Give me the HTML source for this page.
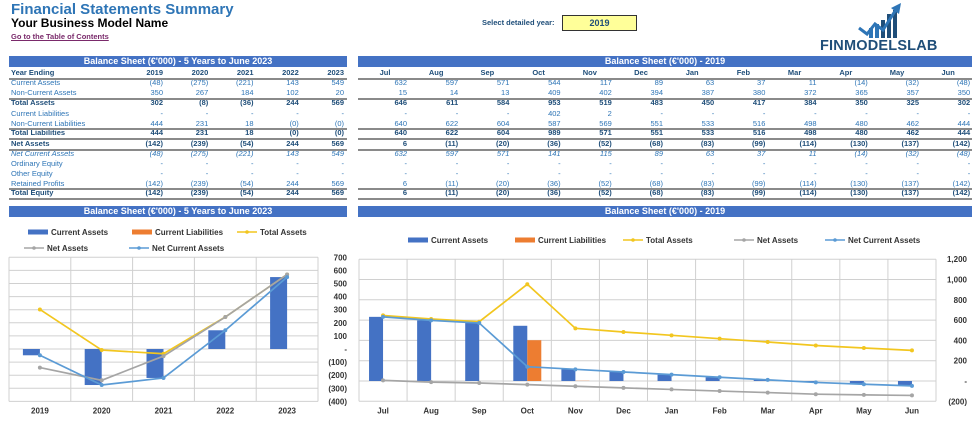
<!DOCTYPE html>
<html><head><meta charset="utf-8"><style>
body{margin:0;width:977px;height:434px;background:#fff;position:relative;overflow:hidden;font-family:"Liberation Sans",sans-serif}
.a{position:absolute;white-space:nowrap}
.bar{position:absolute;background:#4472c4;color:#fff;font-weight:bold;font-size:9px;text-align:center;line-height:11px;height:11px}
.c{position:absolute;font-size:7.5px;line-height:10px;height:10px;color:#2e75b6}
.b{font-weight:bold;color:#1f4e79}
.i{font-style:italic}
.ln{position:absolute;height:0;border-top:2px solid #8a8a8a}
</style></head><body>
<div class="a" style="left:11px;top:1px;font-size:15px;font-weight:bold;color:#2e75b6">Financial Statements Summary</div>
<div class="a" style="left:11px;top:16px;font-size:12px;font-weight:bold;color:#000">Your Business Model Name</div>
<div class="a" style="left:11px;top:32px;font-size:7.5px;font-weight:bold;color:#7a2a6b;text-decoration:underline">Go to the Table of Contents</div>
<div class="a" style="left:482px;top:18px;font-size:7.5px;font-weight:bold;color:#1f4e79">Select detailed year:</div>
<div class="a" style="left:562px;top:15px;width:73px;height:14px;background:#ffff99;border:1px solid #333;font-size:9px;font-weight:bold;color:#1f4e79;text-align:center;line-height:14px">2019</div>
<svg class="a" style="left:855px;top:2px" width="50" height="38" viewBox="0 0 50 38">
<rect x="14" y="26" width="4" height="10" fill="#2e75b6"/><rect x="20" y="22" width="4" height="14" fill="#2e75b6"/><rect x="26" y="18" width="4" height="18" fill="#1f4e79"/><rect x="32" y="12" width="4" height="24" fill="#1f4e79"/><rect x="38" y="8" width="4" height="28" fill="#1f4e79"/>
<polyline points="4,26 12,32 20,22 28,28 42,6" fill="none" stroke="#2e75b6" stroke-width="3"/><polygon points="36,6 46,1 44,12" fill="#2e75b6"/></svg>
<div class="a" style="left:820px;top:38px;font-size:14.5px;font-weight:bold;color:#1f4e79;letter-spacing:0.2px">FINMODELSLAB</div>

<div class="bar" style="left:9px;top:56px;width:338px">Balance Sheet (€'000) - 5 Years to June 2023</div>
<div class="bar" style="left:358px;top:56px;width:614px">Balance Sheet (€'000) - 2019</div>
<div class="bar" style="left:9px;top:206px;width:338px">Balance Sheet (€'000) - 5 Years to June 2023</div>
<div class="bar" style="left:358px;top:206px;width:614px">Balance Sheet (€'000) - 2019</div>
<div id="tables"></div>
<svg id="ch1" class="a" style="left:0;top:218px" width="355" height="216"></svg>
<svg id="ch2" class="a" style="left:355px;top:218px" width="622" height="216"></svg>
<script>
const years=["2019","2020","2021","2022","2023"];
const months=["Jul","Aug","Sep","Oct","Nov","Dec","Jan","Feb","Mar","Apr","May","Jun"];
const rowLabels=["Current Assets","Non-Current Assets","Total Assets","Current Liabilities","Non-Current Liabilities","Total Liabilities","Net Assets","Net Current Assets","Ordinary Equity","Other Equity","Retained Profits","Total Equity"];
const yCurrentAssets=[-48,-275,-221,143,549];
const yNonCurrentAssets=[350,267,184,102,20];
const yTotalAssets=[302,-8,-36,244,569];
const yCurrentLiab=[0,0,0,0,0];
const yNonCurrentLiab=[444,231,18,0,0];
const yTotalLiab=[444,231,18,0,0];
const yNetAssets=[-142,-239,-54,244,569];
const yNetCurrentAssets=[-48,-275,-221,143,549];
const yRetained=[-142,-239,-54,244,569];
const mCurrentAssets=[632,597,571,544,117,89,63,37,11,-14,-32,-48];
const mNonCurrentAssets=[15,14,13,409,402,394,387,380,372,365,357,350];
const mTotalAssets=[646,611,584,953,519,483,450,417,384,350,325,302];
const mCurrentLiab=[0,0,0,402,2,0,0,0,0,0,0,0];
const mNonCurrentLiab=[640,622,604,587,569,551,533,516,498,480,462,444];
const mTotalLiab=[640,622,604,989,571,551,533,516,498,480,462,444];
const mNetAssets=[6,-11,-20,-36,-52,-68,-83,-99,-114,-130,-137,-142];
const mNetCurrentAssets=[632,597,571,141,115,89,63,37,11,-14,-32,-48];
const mRetained=[6,-11,-20,-36,-52,-68,-83,-99,-114,-130,-137,-142];

function fmt(v){if(v===null)return"-";if(v===0)return"-";return v<0?"("+(-v)+")":String(v);}
const T=document.getElementById('tables');
const rowY=[78,88,98,109,119,128,139,149,159,169,179,188];
const rowStyle=["","","b","","","b","b","i","","","","b"];
const ySeries=[yCurrentAssets,yNonCurrentAssets,yTotalAssets,yCurrentLiab,yNonCurrentLiab,yTotalLiab,yNetAssets,yNetCurrentAssets,null,null,yRetained,yRetained];
const mSeries=[mCurrentAssets,mNonCurrentAssets,mTotalAssets,mCurrentLiab,mNonCurrentLiab,mTotalLiab,mNetAssets,mNetCurrentAssets,null,null,mRetained,mRetained];
function cell(x,y,w,txt,cls,align,name){const d=document.createElement('div');d.className='c '+cls;d.style.left=x+'px';d.style.top=y+'px';d.style.width=w+'px';d.style.textAlign=align;d.textContent=txt;


T.appendChild(d);}
const yColLeft=i=>304-(4-i)*45.25;
cell(11,68,120,"Year Ending","b","left","year-ending-label");
years.forEach((y,i)=>cell(yColLeft(i),68,40,y,"b","right","year-header"));
months.forEach((m,i)=>cell(370+i*51.2,68,30,m,"b","center","month-header"));
rowLabels.forEach((l,r)=>{
 cell(11,rowY[r],140,l,rowStyle[r],"left","row-label");
 const ys=ySeries[r],ms=mSeries[r];
 years.forEach((y,i)=>{let v=ys?ys[i]:0;if((r===4||r===5)&&i>=3)v="(0)";cell(yColLeft(i),rowY[r],40,typeof v==="string"?v:fmt(v),rowStyle[r],"right","annual-value");});
 months.forEach((m,i)=>{let v=ms?ms[i]:0;cell(367+i*51.2,rowY[r],40,fmt(v),rowStyle[r],"right","monthly-value");});
});
function line(x,y,w){const d=document.createElement('div');d.className='ln';d.style.left=x+'px';d.style.top=y+'px';d.style.width=w+'px';


T.appendChild(d);}
[78,98,128,138,149,188,198].forEach(y=>{line(9,y,338);line(358,y,614);});

const NS="http://www.w3.org/2000/svg";
function el(svg,tag,attrs,name){const e=document.createElementNS(NS,tag);for(const k in attrs)e.setAttribute(k,attrs[k]);


svg.appendChild(e);return e;}
function legend(svg,x,y,type,color,label){
 if(type==="bar")el(svg,'rect',{x:x,y:y-2.5,width:20,height:5,fill:color},'legend-swatch');
 else{el(svg,'line',{x1:x,y1:y,x2:20+x,y2:y,stroke:color,'stroke-width':1.5},'legend-swatch');el(svg,'circle',{cx:x+10,cy:y,r:1.8,fill:color},'legend-marker');}
 const t=el(svg,'text',{x:x+23,y:y+3,'font-size':8,'font-weight':'bold',fill:'#333'},'legend-entry');t.textContent=label;}
const C={ca:"#4472c4",cl:"#ed7d31",ta:"#f2c61f",na:"#a5a5a5",nca:"#5b9bd5"};

function chart(svg,cats,ca,cl,ta,na,nca,o){
 const x0=o.x0,x1=o.x1,nc=cats.length,bw=(x1-x0)/nc;
 const X=i=>x0+bw*(i+0.5);const Y=v=>o.yz-(v/o.step)*o.px;
 for(let v=o.min;v<=o.max;v+=o.step){el(svg,'line',{x1:x0,x2:x1,y1:Y(v),y2:Y(v),stroke:'#d0d0d0','stroke-width':1},'gridline');
  const t=el(svg,'text',{x:o.lx,y:Y(v)+3,'font-size':8,'font-weight':'bold',fill:'#333','text-anchor':'end'},'y-tick-label');t.textContent=o.fmt(v);}
 for(let i=0;i<=nc;i++)el(svg,'line',{x1:x0+bw*i,x2:x0+bw*i,y1:Y(o.max),y2:Y(o.min),stroke:'#d0d0d0'},'v-gridline');
 cats.forEach((c,i)=>{const t=el(svg,'text',{x:X(i),y:Y(o.min)+12,'font-size':8,'font-weight':'bold',fill:'#333','text-anchor':'middle'},'x-tick-label');t.textContent=c;
  el(svg,'rect',{x:X(i)-o.w,y:Math.min(Y(ca[i]),Y(0)),width:o.w,height:Math.abs(Y(ca[i])-Y(0)),fill:C.ca},'bar-current-assets');
  if(cl[i])el(svg,'rect',{x:X(i),y:Math.min(Y(cl[i]),Y(0)),width:o.w,height:Math.abs(Y(cl[i])-Y(0)),fill:C.cl},'bar-current-liabilities');});
 [[ta,C.ta,'total-assets'],[na,C.na,'net-assets'],[nca,C.nca,'net-current-assets']].forEach(([s,col,n])=>{
  el(svg,'polyline',{points:s.map((v,i)=>X(i)+','+Y(v)).join(' '),fill:'none',stroke:col,'stroke-width':1.7},'line-'+n);
  s.forEach((v,i)=>el(svg,'circle',{cx:X(i),cy:Y(v),r:2,fill:col},'point-'+n));});
}
const s1=document.getElementById('ch1');
legend(s1,28,14,"bar",C.ca,"Current Assets");legend(s1,132,14,"bar",C.cl,"Current Liabilities");legend(s1,237,14,"line",C.ta,"Total Assets");
legend(s1,24,30,"line",C.na,"Net Assets");legend(s1,129,30,"line",C.nca,"Net Current Assets");
chart(s1,years,yCurrentAssets,yCurrentLiab,yTotalAssets,yNetAssets,yNetCurrentAssets,{x0:9,x1:318,min:-400,max:700,step:100,px:13.1,yz:131,w:17,lx:347,fmt:v=>v===0?"-":v<0?"("+(-v)+")":String(v)});
const s2=document.getElementById('ch2');
legend(s2,53,22,"bar",C.ca,"Current Assets");legend(s2,160,22,"bar",C.cl,"Current Liabilities");legend(s2,268,22,"line",C.ta,"Total Assets");
legend(s2,379,22,"line",C.na,"Net Assets");legend(s2,470,22,"line",C.nca,"Net Current Assets");
chart(s2,months,mCurrentAssets,mCurrentLiab,mTotalAssets,mNetAssets,mNetCurrentAssets,{x0:4,x1:581,min:-200,max:1200,step:200,px:20.3,yz:163,w:14,lx:612,fmt:v=>v===0?"-":v<0?"("+(-v)+")":v.toLocaleString("en-US")});
</script>
</body></html>
